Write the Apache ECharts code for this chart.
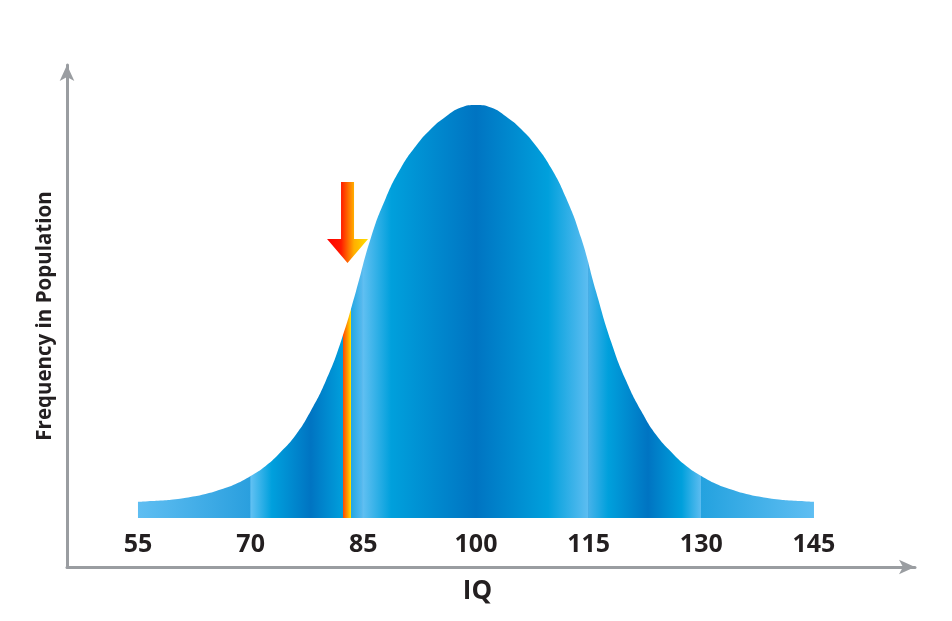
<!DOCTYPE html>
<html>
<head>
<meta charset="utf-8">
<script src="https://cdn.jsdelivr.net/npm/echarts@6/dist/echarts.min.js"></script>
<style>
  html, body { margin: 0; padding: 0; background: #fff; }
  #grafico { width: 952px; height: 621px; }
</style>
</head>
<body>
<div id="grafico"></div>
<script>
// Curva: altura de la campana sobre la base, cada 2 puntos de CI
const iq = [55, 56, 58, 60, 62, 64, 66, 68, 70, 72, 74, 76, 78, 80, 82, 84, 86, 88, 90, 92, 94, 96, 98,
            100, 102, 104, 106, 108, 110, 112, 114, 116, 118, 120, 122, 124, 126, 128, 130, 132, 134,
            136, 138, 140, 142, 144, 145];
const frecuencia = [16.3, 16.6, 17.4, 18.8, 21, 24, 28.5, 34, 42, 52, 66, 83, 107, 137, 176, 226, 280,
                    320, 350, 372, 389, 401.5, 410.5, 413, 410.5, 401.5, 389, 372, 350, 320, 280, 226,
                    176, 137, 107, 83, 66, 52, 42, 34, 28.5, 24, 21, 18.8, 17.4, 16.6, 16.3];
const etiquetasIQ = [55, 70, 85, 100, 115, 130, 145];
const marcaIQ = 82.9;          // posición de la flecha
const marcaAltura = 255;       // punta de la flecha

// Bandas de color del relleno (CI, color)
const BANDAS = [
  [55, '#5fbef2'], [69.95, '#2a9fde'], [70, '#62c1f3'], [72.8, '#00a0dd'], [78, '#0074c2'],
  [82.29, '#009fdc'], [82.3, '#ff4a00'], [82.9, '#ff9a00'], [83.35, '#ffe000'], [83.36, '#22a7e3'],
  [84.8, '#55b9ee'], [84.85, '#3d9fd9'], [84.9, '#62c0f2'], [88.7, '#00a0dc'], [100, '#0074c2'],
  [109.6, '#00a0dc'], [114.9, '#5dbdf1'], [114.95, '#4aa6de'], [115, '#45b2ea'], [117.6, '#00a0dc'],
  [122.9, '#0074c2'], [127.4, '#00a0dc'], [129.95, '#5cbcf0'], [130, '#24a2df'], [145, '#5fbef2']
];

const GRIS = '#9a9da1', TEXTO = '#231f20', FUENTE = '"Open Sans", sans-serif';

const chart = echarts.init(document.getElementById('grafico'), null, { renderer: 'canvas' });

const paradas = BANDAS.map(([x, c]) => ({ offset: (x - iq[0]) / (iq[iq.length - 1] - iq[0]), color: c }));

chart.setOption({
  animation: false,
  backgroundColor: '#fff',
  grid: { left: 67, right: 37, top: 65, bottom: 54, outerBoundsMode: 'none' },
  xAxis: {
    type: 'value', min: 45.55, max: 158.45,
    name: 'IQ', nameLocation: 'middle', nameGap: 12,
    nameTextStyle: { color: TEXTO, fontSize: 26, fontWeight: 'bold', fontFamily: FUENTE,
                     padding: [0, 27, 0, 0] },
    axisLine: { onZero: false, symbol: ['none', 'arrow'], symbolSize: [11, 16],
                lineStyle: { color: GRIS, width: 3 } },
    axisTick: { show: false },
    splitLine: { show: false },
    axisLabel: { inside: true, margin: 10, customValues: etiquetasIQ,
                 color: TEXTO, fontSize: 25, fontWeight: 'bold', fontFamily: FUENTE }
  },
  yAxis: {
    type: 'value', min: -49, max: 453,
    name: 'Frequency in Population', nameLocation: 'middle', nameGap: 11, nameRotate: 90,
    nameTextStyle: { color: TEXTO, fontSize: 20.5, fontWeight: 'bold', fontFamily: FUENTE },
    axisLine: { show: true, symbol: ['none', 'arrow'], symbolSize: [11, 16],
                lineStyle: { color: GRIS, width: 3 } },
    axisTick: { show: false }, axisLabel: { show: false }, splitLine: { show: false }
  },
  series: [{
    type: 'line',
    data: iq.map((x, i) => [x, frecuencia[i]]),
    smooth: 0.5, symbol: 'none', silent: true,
    lineStyle: { width: 0 },
    areaStyle: { opacity: 1, color: { type: 'linear', x: 0, y: 0, x2: 1, y2: 0, colorStops: paradas } },
    markPoint: {
      silent: true,
      symbol: 'path://M14,0 L27,0 L27,57 L41,57 L20.5,81 L0,57 L14,57 Z',
      symbolSize: [41, 81], symbolOffset: [0, '-50%'],
      label: { show: false },
      itemStyle: { color: { type: 'linear', x: 0, y: 0, x2: 1, y2: 0, colorStops: [
        { offset: 0, color: '#ff0000' }, { offset: 0.34, color: '#ff1a00' },
        { offset: 0.66, color: '#ffb000' }, { offset: 1, color: '#ffe000' }
      ] } },
      data: [{ coord: [marcaIQ, marcaAltura] }]
    }
  }]
});
</script>
</body>
</html>
